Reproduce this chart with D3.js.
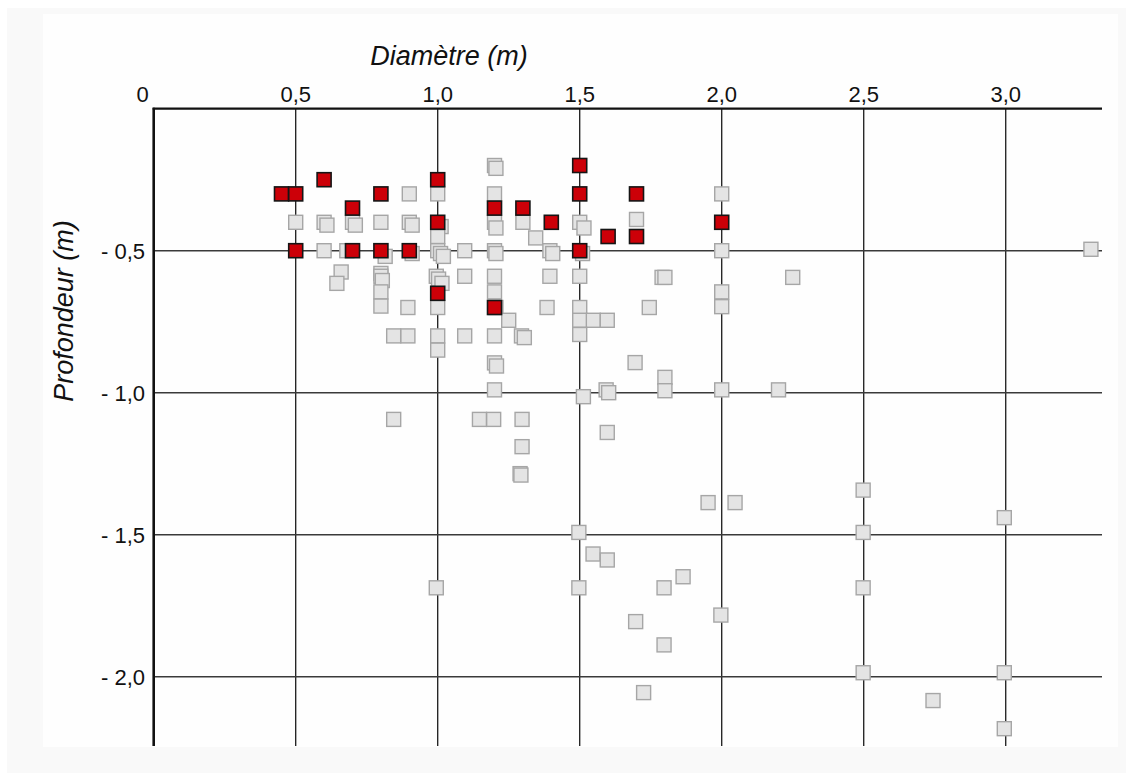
<!DOCTYPE html>
<html><head><meta charset="utf-8">
<script src="https://cdn.jsdelivr.net/npm/d3@7/dist/d3.min.js"></script>
<style>
html,body{margin:0;padding:0;background:#ffffff;}
svg{display:block;}
text{font-family:"Liberation Sans",Arial,sans-serif;fill:#111;}
</style></head>
<body>
<svg id="chart" width="1133" height="780"></svg>
<script>
// ---- Data (diameter in m, depth in m, negative downwards) ----
const greyDiam = [0.9,1.0,1.2,1.205,1.2,2.0,
  0.5,0.6,0.61,0.7,0.71,0.8,0.9,0.91,1.012,1.2,1.205,1.3,1.5,1.515,1.7,
  1.0,1.345,
  0.6,0.68,0.815,0.91,1.0,1.01,1.02,1.095,1.2,1.205,1.395,1.405,1.51,2.0,3.3,
  0.66,0.645,
  0.8,0.8,0.805,0.8,0.8,
  0.995,1.003,1.015,
  1.095,1.2,1.395,1.5,1.79,1.8,2.25,
  1.2,2.0,
  0.895,1.0,1.205,1.385,1.5,1.745,2.0,
  1.25,1.5,1.548,1.597,
  0.845,0.895,1.0,1.095,1.2,1.295,1.305,1.5,
  1.0,
  1.2,1.207,1.695,1.8,
  1.2,1.513,1.593,1.602,1.8,2.0,2.2,
  0.845,1.147,1.197,1.297,
  1.597,1.297,1.29,1.293,
  1.952,2.047,2.498,2.995,
  1.497,2.498,1.547,1.597,1.864,
  0.995,1.497,1.797,2.498,
  1.997,1.697,1.797,
  2.498,2.995,1.725,2.744,2.995];
const greyDepth = [-0.30,-0.30,-0.20,-0.21,-0.30,-0.30,
  -0.40,-0.40,-0.41,-0.40,-0.41,-0.40,-0.40,-0.41,-0.415,-0.40,-0.42,-0.40,-0.40,-0.42,-0.39,
  -0.45,-0.455,
  -0.50,-0.50,-0.52,-0.51,-0.50,-0.51,-0.52,-0.50,-0.50,-0.51,-0.50,-0.51,-0.51,-0.50,-0.495,
  -0.575,-0.615,
  -0.58,-0.59,-0.605,-0.645,-0.695,
  -0.59,-0.60,-0.615,
  -0.59,-0.59,-0.59,-0.59,-0.594,-0.594,-0.594,
  -0.645,-0.645,
  -0.70,-0.70,-0.70,-0.70,-0.70,-0.70,-0.697,
  -0.745,-0.745,-0.745,-0.745,
  -0.80,-0.80,-0.80,-0.80,-0.80,-0.80,-0.806,-0.795,
  -0.85,
  -0.895,-0.906,-0.894,-0.946,
  -0.99,-1.014,-0.99,-1.0,-0.993,-0.99,-0.99,
  -1.094,-1.094,-1.094,-1.094,
  -1.14,-1.19,-1.285,-1.29,
  -1.387,-1.387,-1.343,-1.44,
  -1.492,-1.492,-1.568,-1.589,-1.648,
  -1.687,-1.687,-1.687,-1.687,
  -1.783,-1.806,-1.888,
  -1.986,-1.986,-2.056,-2.084,-2.183];
const redDiam  = [0.45,0.5,0.6,0.7,0.8,1.0,1.0,1.2,1.3,1.4,1.5,1.5,1.6,1.7,1.7,2.0,0.5,0.7,0.8,0.9,1.5,1.0,1.2];
const redDepth = [-0.30,-0.30,-0.25,-0.35,-0.30,-0.25,-0.40,-0.35,-0.35,-0.40,-0.20,-0.30,-0.45,-0.30,-0.45,-0.40,-0.50,-0.50,-0.50,-0.50,-0.50,-0.65,-0.70];

const xTickValues = [0.5,1.0,1.5,2.0,2.5,3.0];
const xTickLabels = ["0,5","1,0","1,5","2,0","2,5","3,0"];
const yTickValues = [-0.5,-1.0,-1.5,-2.0];
const yTickLabels = ["- 0,5","- 1,0","- 1,5","- 2,0"];
const originLabel = "0";
const xTitle = "Diamètre (m)";
const yTitle = "Profondeur (m)";

// ---- Layout ----
const svg = d3.select("#chart");
const x = d3.scaleLinear().domain([0, 3.339]).range([153.7, 1102]);
const y = d3.scaleLinear().domain([0, -2.244]).range([108.7, 746]);

// background panels
svg.append("rect").attr("x",0).attr("y",0).attr("width",1133).attr("height",780).attr("fill","#ffffff");
svg.append("rect").attr("x",7).attr("y",8).attr("width",1119).attr("height",765).attr("fill","#f9f9f9");
svg.append("rect").attr("x",43).attr("y",14).attr("width",1075).attr("height",733).attr("fill","#fefefe");

// grid
const g = svg.append("g");
g.selectAll("line.vg").data(xTickValues).join("line")
  .attr("x1",d=>x(d)).attr("x2",d=>x(d))
  .attr("y1",y(0)).attr("y2",y.range()[1])
  .attr("stroke","#1a1a1a").attr("stroke-width",1.3);
g.selectAll("line.hg").data(yTickValues).join("line")
  .attr("x1",x(0)).attr("x2",x.range()[1])
  .attr("y1",d=>y(d)).attr("y2",d=>y(d))
  .attr("stroke","#3a3a3a").attr("stroke-width",1.5);

// axes lines
g.append("line").attr("x1",x(0)-1).attr("x2",x.range()[1]).attr("y1",y(0)).attr("y2",y(0))
  .attr("stroke","#111").attr("stroke-width",2.2);
g.append("line").attr("x1",x(0)).attr("x2",x(0)).attr("y1",y(0)-1).attr("y2",y.range()[1])
  .attr("stroke","#111").attr("stroke-width",2.6);

// tick labels
svg.selectAll("text.xt").data(xTickValues).join("text")
  .attr("x",d=>x(d)).attr("y",102).attr("text-anchor","middle")
  .attr("font-size",22).text((d,i)=>xTickLabels[i]);
svg.append("text").attr("x",x(0)-11).attr("y",102).attr("text-anchor","middle")
  .attr("font-size",22).text(originLabel);
svg.selectAll("text.yt").data(yTickValues).join("text")
  .attr("x",145).attr("y",d=>y(d)+7.8).attr("text-anchor","end")
  .attr("font-size",22).text((d,i)=>yTickLabels[i]);

// titles
svg.append("text").attr("x",449).attr("y",65).attr("text-anchor","middle")
  .attr("font-size",27).attr("font-style","italic").text(xTitle);
svg.append("text").attr("transform","translate(73,311) rotate(-90)").attr("text-anchor","middle")
  .attr("font-size",27).attr("font-style","italic").text(yTitle);

// points
const S = 14;
const grey = greyDiam.map((d,i)=>({d, p: greyDepth[i]}));
const red = redDiam.map((d,i)=>({d, p: redDepth[i]}));
svg.append("g").selectAll("rect").data(grey).join("rect")
  .attr("x",e=>x(e.d)-S/2).attr("y",e=>y(e.p)-S/2).attr("width",S).attr("height",S)
  .attr("fill","#e4e4e4").attr("stroke","#a6a6a6").attr("stroke-width",1.4);
svg.append("g").selectAll("rect").data(red).join("rect")
  .attr("x",e=>x(e.d)-S/2).attr("y",e=>y(e.p)-S/2).attr("width",S).attr("height",S)
  .attr("fill","#cc0008").attr("stroke","#151515").attr("stroke-width",1.6);
</script>
</body></html>
